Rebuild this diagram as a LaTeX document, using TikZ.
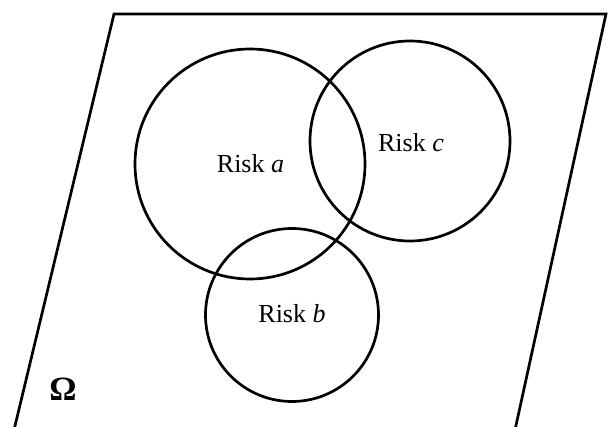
\documentclass[tikz,border=0pt]{standalone}
\usepackage{fontspec}
\setmainfont{Liberation Serif}
\begin{document}
\begin{tikzpicture}[x=1pt,y=-1pt,
  outline/.style={line width=2.7pt,line join=miter},
  riskset/.style={circle,draw,line width=2.7pt,inner sep=0pt},
  risklabel/.style={font=\fontsize{26}{30}\selectfont,inner sep=0pt,anchor=base}]
  \useasboundingbox (0,0) rectangle (608,427);
  \clip (0,0) rectangle (608,427);
  % sample space
  \coordinate (tl) at (114,14);
  \coordinate (tr) at (606,14);
  \coordinate (br) at (515,430);
  \coordinate (bl) at (14,430);
  \draw[outline] (bl) -- (tl) -- (tr) -- (br);
  % the three risk events
  \node[riskset,minimum size=230pt] (ca) at (250,164) {};
  \node[riskset,minimum size=200pt] (cc) at (410,141) {};
  \node[riskset,minimum size=173pt] (cb) at (292,315) {};
  % labels
  \node[risklabel] (la) at (250.5,172.5) {Risk \textit{a}};
  \node[risklabel] (lc) at (411,151.5) {Risk \textit{c}};
  \node[risklabel] (lb) at (292,323) {Risk \textit{b}};
  \node[font=\fontsize{34}{40}\selectfont\bfseries,inner sep=0pt,anchor=base] (om) at (63,401) {Ω};
\end{tikzpicture}
\end{document}
